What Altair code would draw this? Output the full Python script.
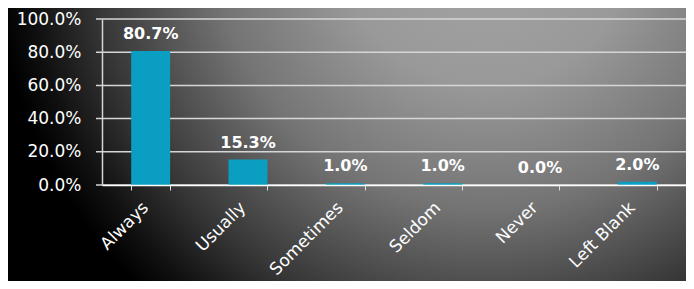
import altair as alt
import pandas as pd

categories = ["Always", "Usually", "Sometimes", "Seldom", "Never", "Left Blank"]
values = [0.807, 0.153, 0.010, 0.010, 0.000, 0.020]
y_ticks = [0.0, 0.2, 0.4, 0.6, 0.8, 1.0]

df = pd.DataFrame({"cat": categories, "val": values})
grid_df = pd.DataFrame({"t": y_ticks})
bg_df = pd.DataFrame({"a": [0]})

W, H = 584, 166
PL, PT = 94, 11

bg = alt.Chart(bg_df).mark_rect(
    color={
        "gradient": "radial",
        "x1": 0.70, "y1": 0.04, "r1": 0.0,
        "x2": 0.70, "y2": 0.04, "r2": 0.71,
        "stops": [
            {"offset": 0.0, "color": "#a6a6a6"},
            {"offset": 0.3, "color": "#999999"},
            {"offset": 0.55, "color": "#747474"},
            {"offset": 0.8, "color": "#363636"},
            {"offset": 0.93, "color": "#101010"},
            {"offset": 1.0, "color": "#000000"},
        ],
    }
).encode(
    x=alt.value(-PL - 8), x2=alt.value(-PL - 8 + 694),
    y=alt.value(-PT - 8), y2=alt.value(-PT - 8 + 513),
)

y_scale = alt.Scale(domain=[0, 1])
y_axis = alt.Axis(format=".1%", values=y_ticks, grid=False,
                  labelFont="DejaVu Sans", labelFontSize=17, labelFontWeight="normal",
                  labelColor="white",
                  domainColor="#d6d6d6", domainWidth=1.5, ticks=False,
                  labelPadding=21, zindex=1)

grid = alt.Chart(grid_df).mark_rule(color="#d6d6d6", strokeWidth=1.5).encode(
    y=alt.Y("t:Q", scale=y_scale, title=None, axis=y_axis),
    x=alt.value(-6), x2=alt.value(W),
)

x_enc = alt.X("cat:N", sort=categories, title=None,
              scale=alt.Scale(paddingInner=0.6, paddingOuter=0.3),
              axis=alt.Axis(labelAngle=-45, labelFont="DejaVu Sans", labelFontSize=17,
                            labelFontWeight="normal",
                            labelColor="white", domainColor="white", domainWidth=1.5,
                            tickColor="#dddddd", tickSize=5, tickBand="extent",
                            labelPadding=9, labelOffset=-11, zindex=1))
y_enc = alt.Y("val:Q", title=None, scale=y_scale, axis=y_axis)

bars = alt.Chart(df).mark_bar(color="#0a9fc2").encode(x=x_enc, y=y_enc)
labels = alt.Chart(df).mark_text(
    dy=-12, baseline="alphabetic", font="DejaVu Sans", fontSize=16, fontWeight="bold", color="white"
).encode(x=alt.X("cat:N", sort=categories), y=alt.Y("val:Q", scale=y_scale, axis=y_axis),
         text=alt.Text("val:Q", format=".1%"))

chart = alt.layer(bg, grid, bars, labels).properties(
    width=W, height=H,
    padding={"left": PL, "top": PT, "right": 0, "bottom": 96},
    autosize=alt.AutoSizeParams(type="none"),
).configure(background="#000000").configure_view(stroke=None)

chart.save("out.html", embed_options={"renderer": "svg", "actions": False})
